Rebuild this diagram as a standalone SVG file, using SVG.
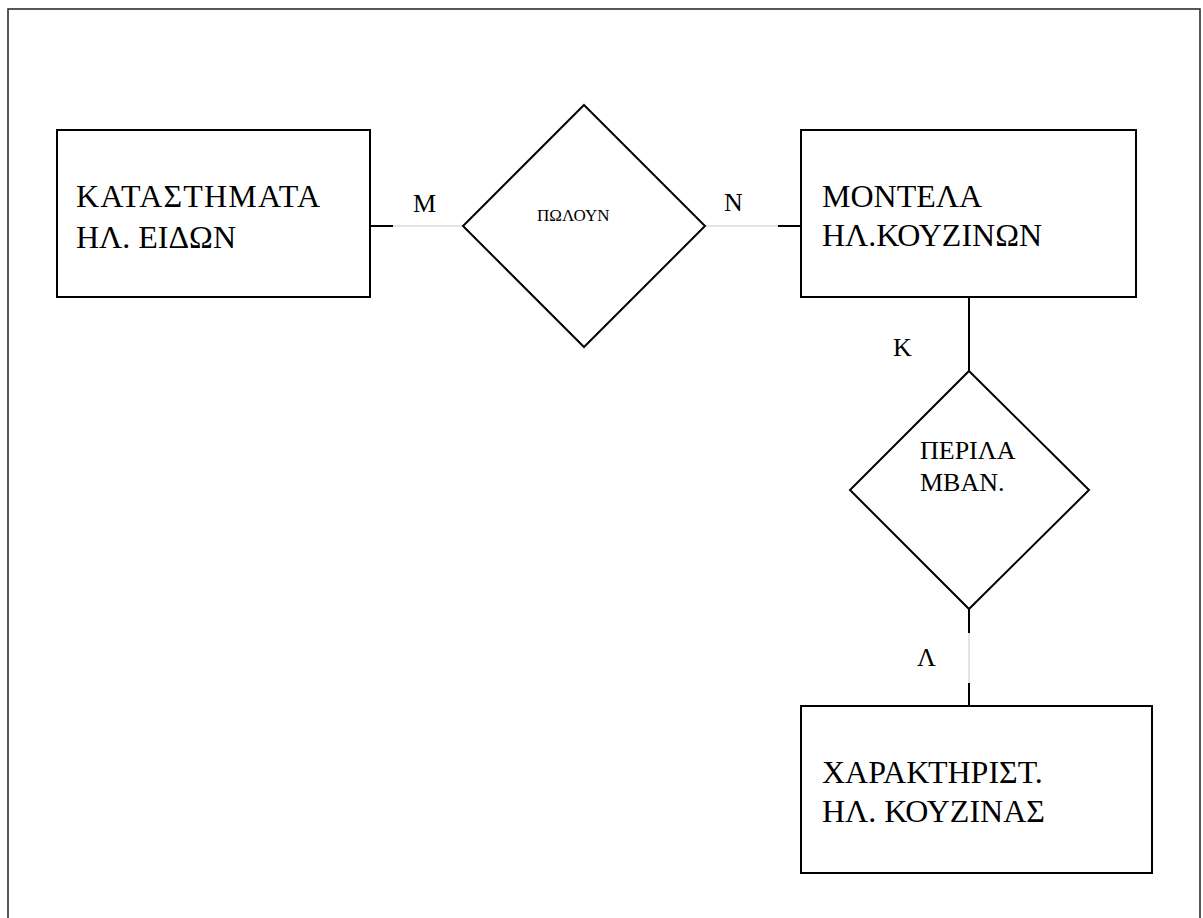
<svg xmlns="http://www.w3.org/2000/svg" width="1203" height="918" viewBox="0 0 1203 918">
<style>
.box{fill:#fff;stroke:#000;stroke-width:2}
.dia{fill:#fff;stroke:#000;stroke-width:2}
.frame{fill:none;stroke:#222;stroke-width:1.5}
.dk{stroke:#000;stroke-width:2;fill:none}
.lt{stroke:#c8c8c8;stroke-width:1;fill:none}
text{font-family:"Liberation Serif","DejaVu Serif",serif;fill:#000}
.big{font-size:32px}
.mid{font-size:26px}
.sm{font-size:17px}
</style>
<rect width="1203" height="918" fill="#fff"/>
<rect class="frame" x="8" y="9" width="1192" height="930"/>
<g id="connectors">
<line class="dk" x1="370" y1="226" x2="393" y2="226"/>
<line class="lt" x1="393" y1="226" x2="464" y2="226"/>
<line class="lt" x1="705" y1="226" x2="778" y2="226"/>
<line class="dk" x1="778" y1="226" x2="801" y2="226"/>
<line class="dk" x1="969" y1="297" x2="969" y2="371"/>
<line class="dk" x1="969" y1="609" x2="969" y2="633"/>
<line class="lt" x1="969" y1="633" x2="969" y2="683"/>
<line class="dk" x1="969" y1="683" x2="969" y2="706"/>
<text class="mid" x="413" y="212">Μ</text>
<text class="mid" x="724" y="211">Ν</text>
<text class="mid" x="893" y="356">Κ</text>
<text class="mid" x="917" y="666">Λ</text>
</g>
<g id="stores">
<rect class="box" x="57" y="130" width="313" height="167"/>
<text class="big" x="76" y="207" textLength="244" lengthAdjust="spacing">ΚΑΤΑΣΤΗΜΑΤΑ</text>
<text class="big" x="76" y="248">ΗΛ. ΕΙΔΩΝ</text>
</g>
<g id="sell">
<polygon class="dia" points="584,105 705,226 584,347 463,226"/>
<text class="sm" x="537" y="221">ΠΩΛΟΥΝ</text>
</g>
<g id="models">
<rect class="box" x="801" y="130" width="335" height="167"/>
<text class="big" x="822" y="207">ΜΟΝΤΕΛΑ</text>
<text class="big" x="822" y="246">ΗΛ.ΚΟΥΖΙΝΩΝ</text>
</g>
<g id="include">
<polygon class="dia" points="969,371 1089,490 969,609 850,490"/>
<text class="mid" x="920" y="459">ΠΕΡΙΛΑ</text>
<text class="mid" x="920" y="491">ΜΒΑΝ.</text>
</g>
<g id="features">
<rect class="box" x="801" y="706" width="351" height="167"/>
<text class="big" x="822" y="783">ΧΑΡΑΚΤΗΡΙΣΤ.</text>
<text class="big" x="822" y="822">ΗΛ. ΚΟΥΖΙΝΑΣ</text>
</g>
</svg>
